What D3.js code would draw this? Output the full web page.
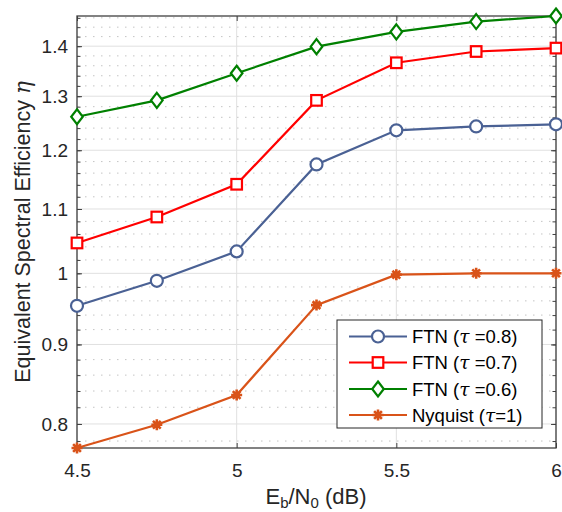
<!DOCTYPE html>
<html><head><meta charset="utf-8">
<script src="https://cdn.jsdelivr.net/npm/d3@7"></script>
<style>body{margin:0;background:#fff}svg{display:block;font-family:"Liberation Sans",Arial,sans-serif}</style>
</head><body><svg id="c" width="562" height="512"></svg>
<script>
const ebn0 = [4.5, 4.75, 5, 5.25, 5.5, 5.75, 6];
const ftn08 = [0.953, 0.989, 1.033, 1.175, 1.236, 1.243, 1.247];
const ftn07 = [1.046, 1.087, 1.141, 1.292, 1.366, 1.389, 1.396];
const ftn06 = [1.261, 1.292, 1.345, 1.399, 1.430, 1.452, 1.464];
const nyquist = [0.772, 0.799, 0.835, 0.954, 0.998, 1.0, 1.0];
const xTicks = [4.5, 5, 5.5, 6];
const yTicks = [0.8, 0.9, 1, 1.1, 1.2, 1.3, 1.4];
const yMinor = d3.range(39).map(i => +(0.78 + i * 0.02).toFixed(2)).filter(v => v <= 1.464);
const seriesNames = ["FTN (\u03c4 =0.8)", "FTN (\u03c4 =0.7)", "FTN (\u03c4 =0.6)", "Nyquist (\u03c4=1)"];

const W = 562, H = 512, m = {l: 77, t: 16, r: 6, b: 64};
const svg = d3.select("#c");
const x = d3.scaleLinear().domain([4.5, 6]).range([m.l, W - m.r]);
const y = d3.scaleLog().domain([0.772, 1.464]).range([H - m.b, m.t]);
const pw = W - m.l - m.r, ph = H - m.t - m.b;

const g = svg.append("g");
// minor grid
g.selectAll(".mg").data(yMinor.filter(v => !yTicks.some(t => Math.abs(t - v) < 1e-6))).join("line")
  .attr("x1", m.l).attr("x2", W - m.r).attr("y1", d => y(d)).attr("y2", d => y(d))
  .attr("stroke", "#c4c4c4").attr("stroke-width", 1).attr("stroke-dasharray", "1.5,6.5");
// major grid
g.selectAll(".yg").data(yTicks).join("line")
  .attr("x1", m.l).attr("x2", W - m.r).attr("y1", d => y(d)).attr("y2", d => y(d))
  .attr("stroke", "#e0e0e0").attr("stroke-width", 1);
g.selectAll(".xg").data(xTicks).join("line")
  .attr("x1", d => x(d)).attr("x2", d => x(d)).attr("y1", m.t).attr("y2", H - m.b)
  .attr("stroke", "#e0e0e0").attr("stroke-width", 1);

// axes with inward ticks
const axCol = "#404040";
const fmtY = d => d === 1 ? "1" : d3.format(".1f")(d);
const axL = svg.append("g").attr("transform", `translate(${m.l},0)`)
  .call(d3.axisLeft(y).tickValues(yTicks).tickFormat(fmtY).tickSize(-5).tickPadding(9));
const axLm = svg.append("g").attr("transform", `translate(${m.l},0)`)
  .call(d3.axisLeft(y).tickValues(yMinor).tickFormat("").tickSize(-3.5));
const axR = svg.append("g").attr("transform", `translate(${W - m.r},0)`)
  .call(d3.axisRight(y).tickValues(yTicks).tickFormat("").tickSize(-5));
const axRm = svg.append("g").attr("transform", `translate(${W - m.r},0)`)
  .call(d3.axisRight(y).tickValues(yMinor).tickFormat("").tickSize(-3.5));
const axB = svg.append("g").attr("transform", `translate(0,${H - m.b})`)
  .call(d3.axisBottom(x).tickValues(xTicks).tickFormat(d3.format("")).tickSize(-5).tickPadding(15.5));
const axT = svg.append("g").attr("transform", `translate(0,${m.t})`)
  .call(d3.axisTop(x).tickValues(xTicks).tickFormat("").tickSize(-5));
[axL, axLm, axR, axRm, axB, axT].forEach(a => {
  a.select(".domain").remove();
  a.selectAll(".tick line").attr("stroke", axCol);
  a.selectAll("text").attr("fill", "#262626").style("font-size", "19px").style("font-family", '"Liberation Sans",Arial,sans-serif');
});
svg.append("rect").attr("x", m.l).attr("y", m.t).attr("width", pw).attr("height", ph)
  .attr("fill", "none").attr("stroke", axCol).attr("stroke-width", 1.3);

// series
const series = [
  {v: ftn08, c: "#4a6194", mk: "circle"},
  {v: ftn07, c: "#ff0000", mk: "square"},
  {v: ftn06, c: "#008000", mk: "diamond"},
  {v: nyquist, c: "#d95319", mk: "star"}
];
const line = d3.line().x(d => x(d[0])).y(d => y(d[1]));

function marker(sel, type, c, cx, cy) {
  if (type === "circle") sel.append("circle").attr("cx", cx).attr("cy", cy).attr("r", 6)
    .attr("fill", "#fff").attr("stroke", c).attr("stroke-width", 2.2);
  else if (type === "square") sel.append("rect").attr("x", cx - 5.3).attr("y", cy - 5.3).attr("width", 10.6).attr("height", 10.6)
    .attr("fill", "#fff").attr("stroke", c).attr("stroke-width", 2.2);
  else if (type === "diamond") sel.append("path").attr("d", `M${cx},${cy - 7.5}L${cx + 5.8},${cy}L${cx},${cy + 7.5}L${cx - 5.8},${cy}Z`)
    .attr("fill", "#fff").attr("stroke", c).attr("stroke-width", 2.2);
  else {
    const r = 5.5, p = [];
    for (let k = 0; k < 4; k++) { const a = k * Math.PI / 4; p.push(`M${cx - r * Math.cos(a)},${cy - r * Math.sin(a)}L${cx + r * Math.cos(a)},${cy + r * Math.sin(a)}`); }
    sel.append("path").attr("d", p.join("")).attr("stroke", c).attr("stroke-width", 2.6).attr("fill", "none");
    sel.append("circle").attr("cx", cx).attr("cy", cy).attr("r", 3).attr("fill", c);
  }
}
const sg = svg.append("g");
series.forEach(s => {
  const pts = ebn0.map((e, i) => [e, s.v[i]]);
  sg.append("path").datum(pts).attr("d", line).attr("fill", "none").attr("stroke", s.c).attr("stroke-width", 2.2);
  const mg = sg.append("g");
  pts.forEach(p => marker(mg, s.mk, s.c, x(p[0]), y(p[1])));
});

// legend
const lg = svg.append("g");
lg.append("rect").attr("x", 337).attr("y", 320).attr("width", 205).attr("height", 108)
  .attr("fill", "#fff").attr("stroke", "#262626").attr("stroke-width", 1);
const rowY = [336.5, 362.5, 389, 415];
series.forEach((s, i) => {
  const yy = rowY[i];
  lg.append("line").attr("x1", 349).attr("x2", 407).attr("y1", yy).attr("y2", yy).attr("stroke", s.c).attr("stroke-width", 2.2);
  marker(lg, s.mk, s.c, 378, yy);
  const parts = seriesNames[i].split("\u03c4");
  const t = lg.append("text").attr("x", 412).attr("y", yy + 6.5).attr("fill", "#000").style("font-size", "18.5px");
  t.append("tspan").text(parts[0]);
  t.append("tspan").text("\u03c4").style("font-style", "italic").style("font-family", '"DejaVu Serif",serif');
  t.append("tspan").text(parts[1]);
});

// axis labels
const xl = svg.append("text").attr("x", 316).attr("y", 504).attr("text-anchor", "middle").attr("fill", "#262626").style("font-size", "22px");
xl.append("tspan").text("E");
xl.append("tspan").text("b").attr("dy", 4).style("font-size", "15px");
xl.append("tspan").text("/N").attr("dy", -4);
xl.append("tspan").text("0").attr("dy", 4).style("font-size", "15px");
xl.append("tspan").text(" (dB)").attr("dy", -4);

const yl = svg.append("text").attr("transform", "translate(30,232) rotate(-90)").attr("text-anchor", "middle").attr("fill", "#262626").style("font-size", "21.5px");
yl.append("tspan").text("Equivalent Spectral Efficiency ");
yl.append("tspan").text("\u03b7").style("font-style", "italic").style("font-family", '"DejaVu Serif",serif');
</script></body></html>
